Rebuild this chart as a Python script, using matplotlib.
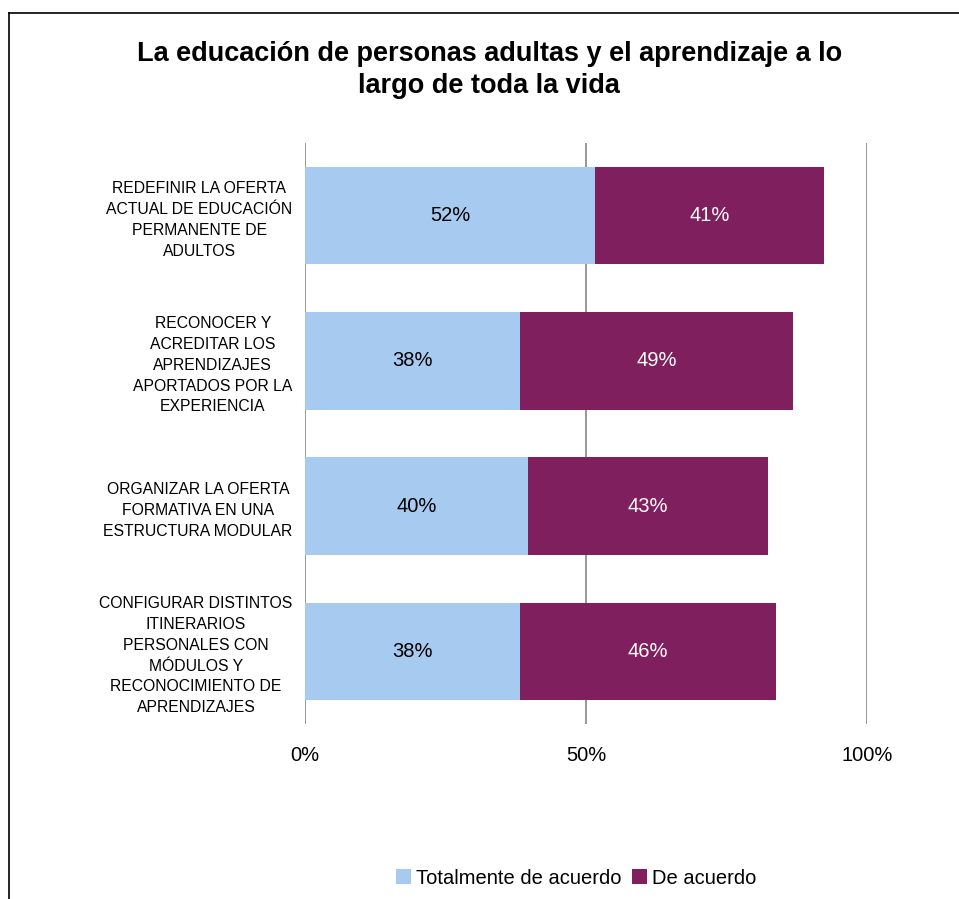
import numpy as np
import matplotlib.pyplot as plt
from matplotlib.lines import Line2D

plt.rcParams['font.family'] = ['Liberation Sans', 'DejaVu Sans']

categories = ['REDEFINIR LA OFERTA\nACTUAL DE EDUCACIÓN\nPERMANENTE DE\nADULTOS',
              'RECONOCER Y\nACREDITAR LOS\nAPRENDIZAJES\nAPORTADOS POR LA\nEXPERIENCIA',
              'ORGANIZAR LA OFERTA\nFORMATIVA EN UNA\nESTRUCTURA MODULAR',
              'CONFIGURAR DISTINTOS\nITINERARIOS\nPERSONALES CON\nMÓDULOS Y\nRECONOCIMIENTO DE\nAPRENDIZAJES']
totalmente = [51.6, 38.3, 39.7, 38.3]
de_acuerdo = [40.7, 48.5, 42.7, 45.5]
labels_tot = ['52%', '38%', '40%', '38%']
labels_de = ['41%', '49%', '43%', '46%']

blue = '#A7CAF0'
purple = '#7F1F5E'

fig = plt.figure(figsize=(9.59, 8.99), dpi=100)
ax = fig.add_axes([305/959, 1-724/899, 562/959, 581/899])

y = np.arange(len(categories))
b1 = ax.barh(y, totalmente, height=0.67, color=blue, label='Totalmente de acuerdo', zorder=2)
b2 = ax.barh(y, de_acuerdo, left=totalmente, height=0.67, color=purple, label='De acuerdo', zorder=2)

for i in range(len(categories)):
    ax.text(totalmente[i]/2, y[i], labels_tot[i], ha='center', va='center', fontsize=14.5, color='black', zorder=3)
    ax.text(totalmente[i] + de_acuerdo[i]/2, y[i], labels_de[i], ha='center', va='center', fontsize=14.5, color='white', zorder=3)

ax.set_xlim(0, 100)
ax.set_ylim(3.5, -0.5)
ax.set_xticks([0, 50, 100])
ax.set_xticklabels(['0%', '50%', '100%'], fontsize=14.5)
ax.set_yticks(y)
ax.set_yticklabels(categories, fontsize=11.3, linespacing=1.48)
for lab in ax.get_yticklabels():
    lab.set_multialignment('center')
ax.tick_params(axis='x', length=0, pad=16)
ax.tick_params(axis='y', length=0, pad=9)
for s in ax.spines.values():
    s.set_visible(False)
ax.xaxis.grid(True, color='#868686', linewidth=1.2, zorder=1)

fig.text(0.51, 1-70/899, 'La educación de personas adultas y el aprendizaje a lo\nlargo de toda la vida',
         ha='center', va='center', fontsize=19.5, fontweight='bold', linespacing=1.3)

fig.legend(handles=[b1, b2], loc='center', bbox_to_anchor=(576/959, 1-878/899), ncol=2, frameon=False,
           fontsize=14.5, handlelength=0.75, handleheight=0.75, handletextpad=0.25, columnspacing=0.5)

fig.add_artist(Line2D([8.5/959, 8.5/959], [0, 1-12.5/899], color='black', linewidth=1.2))
fig.add_artist(Line2D([8.5/959, 1], [1-12.5/899, 1-12.5/899], color='black', linewidth=1.2))

fig.savefig('out.png', dpi=100)
